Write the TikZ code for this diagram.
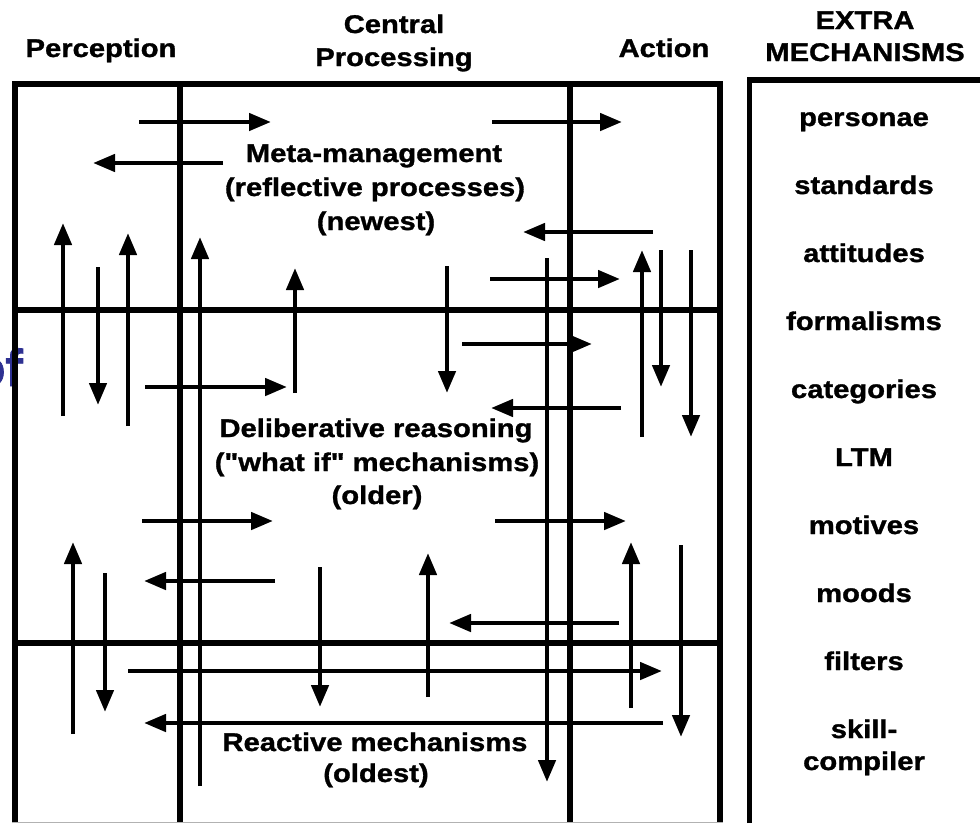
\documentclass[tikz,border=0pt]{standalone}
\usepackage{fontspec}
\usetikzlibrary{arrows.meta}
\newfontfamily\lab{Liberation Sans}[FakeStretch=1.14,BoldFeatures={FakeBold=1.2}]
\newfontfamily\titlefont{Liberation Sans}[BoldFeatures={FakeBold=1.5}]
\definecolor{titleblue}{RGB}{46,49,146}
\newcommand\flowarrow[3]{%
  \coordinate (#1-s) at (#2);
  \coordinate (#1-e) at (#3);
  \draw[flow] (#1-s) -- (#1-e);}
\begin{document}
\begin{tikzpicture}[x=1pt,y=-1pt,
  frame/.style={line width=5.5pt},
  flow/.style={line width=4.5pt,-{Triangle[length=22pt,width=17pt]}},
  lbl/.style={font=\lab\bfseries\fontsize{25.6}{30}\selectfont,inner sep=0pt,anchor=base}]
\useasboundingbox (0,0) rectangle (980,823);

% fragment of a title running off the left edge
\node[font=\titlefont\bfseries\fontsize{52}{54}\selectfont,text=titleblue,inner sep=0pt,anchor=base east] (ofword) at (23,386) {of};

% column headings
\node[lbl] (hperc) at (101,57) {Perception};
\node[lbl] (hcen1) at (394,33) {Central};
\node[lbl] (hcen2) at (394,66) {Processing};
\node[lbl] (hact) at (664,57) {Action};
\node[lbl] (hext1) at (865,29) {EXTRA};
\node[lbl] (hext2) at (865,61) {MECHANISMS};

% main grid
\draw[frame] (15,823) -- (15,84) -- (720,84) -- (720,823);
\draw[frame] (180,84) -- (180,823);
\draw[frame] (570,84) -- (570,823);
\draw[frame] (12.25,310) -- (722.75,310);
\draw[frame] (12.25,643) -- (722.75,643);
\draw[gray!60,line width=1pt] (12,822.5) -- (723,822.5);

% extra mechanisms panel
\draw[frame] (749.5,823) -- (749.5,80) -- (980,80);

% layer captions
\node[lbl] (m1) at (374,162) {Meta-management};
\node[lbl] (m2) at (375,196) {(reflective processes)};
\node[lbl] (m3) at (376,230) {(newest)};
\node[lbl] (d1) at (376,437) {Deliberative reasoning};
\node[lbl] (d2) at (377,471) {("what if" mechanisms)};
\node[lbl] (d3) at (377,504) {(older)};
\node[lbl] (r1) at (375,751) {Reactive mechanisms};
\node[lbl] (r2) at (376,782) {(oldest)};

% extra mechanisms list
\foreach \name/\txt/\yy in {e1/personae/126, e2/standards/194, e3/attitudes/262,
  e4/formalisms/330, e5/categories/398, e6/LTM/466, e7/motives/534,
  e8/moods/602, e9/filters/670, e10/skill-/738, e11/compiler/770}
  \node[lbl] (\name) at (864,\yy) {\txt};

% horizontal flows
\flowarrow{a1}{139,122}{271,122}
\flowarrow{a2}{223,163}{93,163}
\flowarrow{a3}{492,122}{622,122}
\flowarrow{a4}{653,232}{523,232}
\flowarrow{a5}{490,279}{620,279}
\flowarrow{a6}{145,387}{287,387}
\flowarrow{a7}{462,344}{592,344}
\flowarrow{a8}{621,408}{491,408}
\flowarrow{a9}{142,521}{273,521}
\flowarrow{a10}{495,521}{626,521}
\flowarrow{a11}{275,581}{144,581}
\flowarrow{a12}{619,623}{449,623}
\flowarrow{a13}{128,671}{662,671}
\flowarrow{a14}{663,723}{144,723}

% vertical flows
\flowarrow{b1}{63,416}{63,223}
\flowarrow{b2}{98,267}{98,405}
\flowarrow{b3}{128,426}{128,233}
\flowarrow{b4}{200,786}{200,237}
\flowarrow{b5}{295,393}{295,268}
\flowarrow{b6}{447,266}{447,393}
\flowarrow{b7}{547,258}{547,782}
\flowarrow{b8}{642,437}{642,250}
\flowarrow{b9}{661,250}{661,387}
\flowarrow{b10}{691,250}{691,437}
\flowarrow{b11}{73,734}{73,542}
\flowarrow{b12}{105,573}{105,712}
\flowarrow{b13}{320,567}{320,707}
\flowarrow{b14}{428,697}{428,553}
\flowarrow{b15}{631,708}{631,542}
\flowarrow{b16}{681,545}{681,737}
\end{tikzpicture}
\end{document}
